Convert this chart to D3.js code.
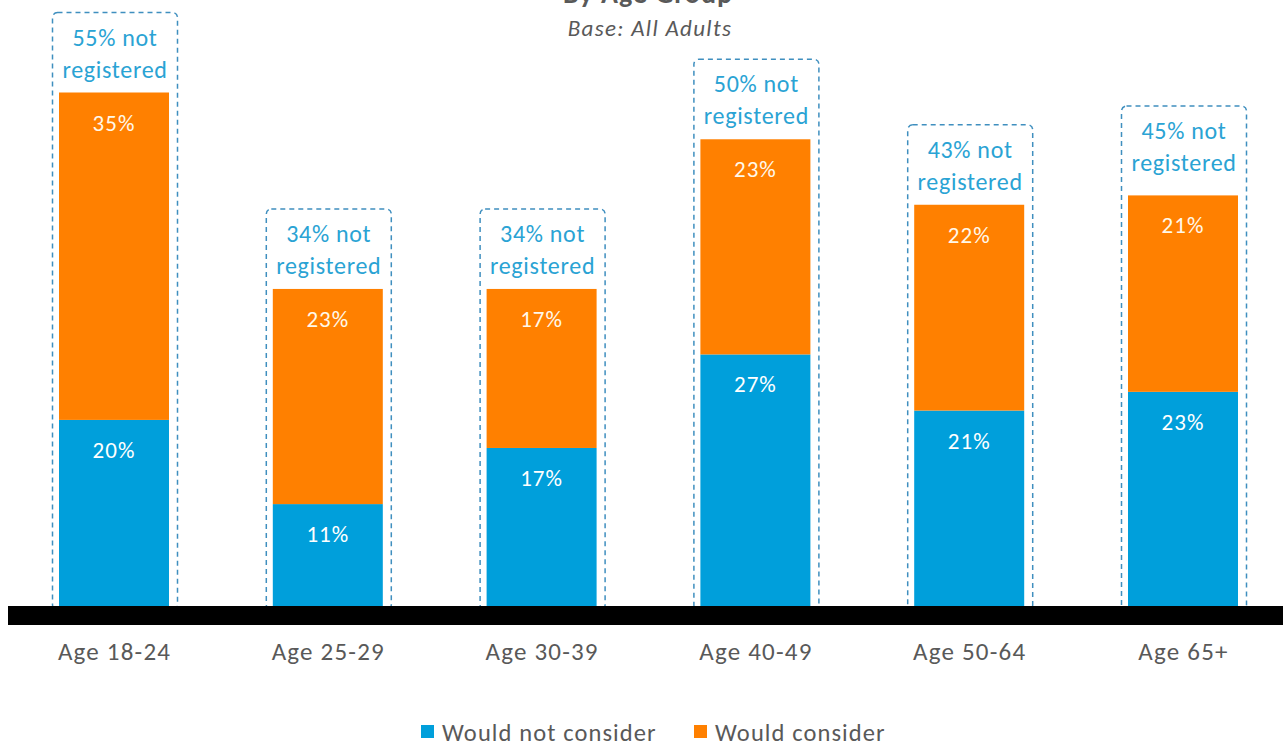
<!DOCTYPE html>
<html>
<head>
<meta charset="utf-8">
<script src="https://cdn.jsdelivr.net/npm/d3@7/dist/d3.min.js"></script>
<style>
  html, body { margin: 0; padding: 0; background: #ffffff; }
  svg { display: block; }
  text { font-family: Carlito, Lato, "Open Sans", sans-serif; }
</style>
</head>
<body>
<svg id="chart" width="1283" height="748"></svg>
<script>
// ---- Data ----
const categories = ["Age 18-24", "Age 25-29", "Age 30-39", "Age 40-49", "Age 50-64", "Age 65+"];
const wouldNotConsider = [20, 11, 17, 27, 21, 23];
const wouldConsider = [35, 23, 17, 23, 22, 21];
const notRegistered = [55, 34, 34, 50, 43, 45];
const seriesNames = ["Would not consider", "Would consider"];
const title = "By Age Group";
const subtitle = "Base: All Adults";

// ---- Layout ----
const W = 1283, H = 748;
const svg = d3.select("#chart");
const blue = "#009fdb", orange = "#ff8000";
const grey = "#595959";
const boxBlue = "#2aa3d4";

const x = d3.scalePoint().domain(categories).range([114, 1183]);
const y = d3.scaleLinear().domain([0, 55]).range([607, 92.5]);
const barW = 110;

const rows = categories.map((c, i) => ({
  cat: c, a: wouldNotConsider[i], b: wouldConsider[i], t: notRegistered[i]
}));

// Title / subtitle
svg.append("text").attr("x", 648).attr("y", 3).attr("text-anchor", "middle")
  .attr("font-size", 28).attr("font-weight", "bold").attr("letter-spacing", 1).attr("fill", grey).text(title);
svg.append("text").attr("x", 650).attr("y", 36).attr("text-anchor", "middle")
  .attr("font-size", 23).attr("font-style", "italic").attr("letter-spacing", 1.3).attr("fill", grey).text(subtitle);

// Dashed boxes
const g = svg.append("g");
rows.forEach(r => {
  const cx = x(r.cat);
  const top = y(r.t);
  const boxTop = top - 80;
  g.append("rect")
    .attr("x", cx - 61.5).attr("y", boxTop)
    .attr("width", 125).attr("height", 610 - boxTop)
    .attr("rx", 5).attr("ry", 5)
    .attr("fill", "none").attr("stroke", "#3f8fbf")
    .attr("stroke-width", 1.5).attr("stroke-dasharray", "5,4");
  const t = g.append("text").attr("text-anchor", "middle")
    .attr("font-size", 24).attr("letter-spacing", 0.7).attr("fill", boxBlue);
  t.append("tspan").attr("x", cx + 1).attr("y", boxTop + 33).text(r.t + "% not");
  t.append("tspan").attr("x", cx + 1).attr("y", boxTop + 65).text("registered");
});

// Bars
rows.forEach(r => {
  const cx = x(r.cat);
  g.append("rect").attr("x", cx - barW / 2).attr("y", y(r.a))
    .attr("width", barW).attr("height", y(0) - y(r.a)).attr("fill", blue);
  g.append("rect").attr("x", cx - barW / 2).attr("y", y(r.a + r.b))
    .attr("width", barW).attr("height", y(r.a) - y(r.a + r.b)).attr("fill", orange);
  g.append("text").attr("x", cx).attr("y", y(r.a) + 38).attr("text-anchor", "middle")
    .attr("font-size", 23).attr("letter-spacing", 1).attr("fill", "#ffffff").text(r.a + "%");
  g.append("text").attr("x", cx).attr("y", y(r.a + r.b) + 38).attr("text-anchor", "middle")
    .attr("font-size", 23).attr("letter-spacing", 1).attr("fill", "#fff8ea").text(r.b + "%");
});

// Axis baseline (thick black band) and category labels
svg.append("rect").attr("x", 8).attr("y", 606).attr("width", W - 8).attr("height", 19).attr("fill", "#000");
const axis = svg.append("g").attr("transform", "translate(0,616)")
  .call(d3.axisBottom(x).tickSize(0).tickPadding(0));
axis.select(".domain").remove();
axis.selectAll("text").attr("y", 44).attr("dy", null)
  .attr("font-size", 25).attr("letter-spacing", 1.2).attr("fill", grey)
  .style("font-family", "Carlito, Lato, 'Open Sans', sans-serif");

// Legend
const leg = svg.append("g");
const legX = [421, 694];
const legColors = [blue, orange];
seriesNames.forEach((n, i) => {
  leg.append("rect").attr("x", legX[i]).attr("y", 725).attr("width", 13).attr("height", 13).attr("fill", legColors[i]);
  leg.append("text").attr("x", legX[i] + 21).attr("y", 741).attr("font-size", 24.5)
    .attr("letter-spacing", 1.1).attr("fill", grey).text(n);
});
</script>
</body>
</html>
